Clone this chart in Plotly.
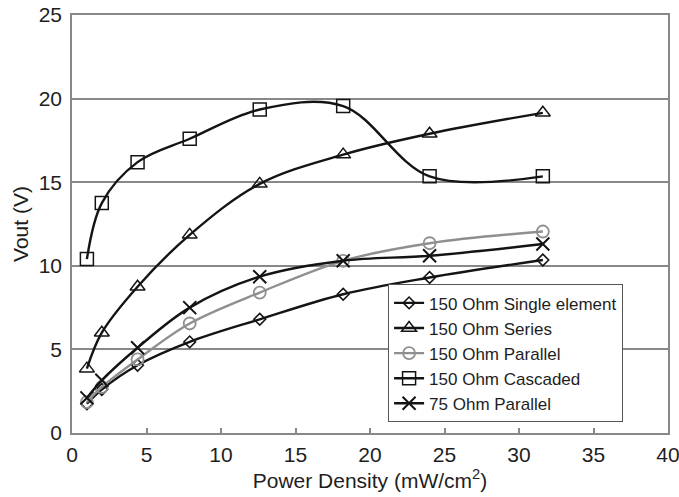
import plotly.graph_objects as go

# Power density (mW/cm^2) at which each configuration was measured
power_density = [1.0, 2.0, 4.4, 7.9, 12.6, 18.2, 24.0, 31.6]

# Output voltage (V) for each configuration
single_150 = [1.75, 2.6, 4.05, 5.45, 6.8, 8.3, 9.3, 10.35]
series_150 = [3.85, 6.0, 8.75, 11.85, 14.9, 16.65, 17.9, 19.15]
parallel_150 = [1.85, 2.75, 4.4, 6.55, 8.4, 10.3, 11.35, 12.05]
cascaded_150 = [10.4, 13.75, 16.2, 17.6, 19.35, 19.55, 15.35, 15.35]
parallel_75 = [2.1, 3.15, 5.1, 7.5, 9.35, 10.3, 10.6, 11.3]

series_names = [
    "150 Ohm Single element",
    "150 Ohm Series",
    "150 Ohm Parallel",
    "150 Ohm Cascaded",
    "75 Ohm Parallel",
]

x_ticks = [0, 5, 10, 15, 20, 25, 30, 35, 40]
y_ticks = [0, 5, 10, 15, 20, 25]

BLACK = "#141414"
GRAY = "#8f8f8f"
FONT = "Liberation Sans, Arial, sans-serif"

styles = [
    (single_150, BLACK, "diamond-open", 9, 1.6),
    (series_150, BLACK, "triangle-up-open", 13, 1.5),
    (parallel_150, GRAY, "circle-open", 12, 1.8),
    (cascaded_150, BLACK, "square-open", 13, 1.5),
    (parallel_75, BLACK, "x-thin-open", 13, 2.0),
]

fig = go.Figure()
for name, (vals, color, symbol, size, mlw) in zip(series_names, styles):
    fig.add_trace(
        go.Scatter(
            x=power_density,
            y=vals,
            name=name,
            mode="lines+markers",
            line=dict(color=color, width=2.4, shape="spline", smoothing=1.0),
            marker=dict(
                symbol=symbol,
                size=size,
                color=color,
                line=dict(color=color, width=mlw),
            ),
        )
    )

fig.update_layout(
    width=679,
    height=497,
    margin=dict(l=72, r=11, t=15, b=64, autoexpand=False),
    paper_bgcolor="white",
    plot_bgcolor="white",
    font=dict(family=FONT, size=21, color="#1e1e1e"),
    showlegend=True,
    legend=dict(
        x=0.53,
        y=0.026,
        xanchor="left",
        yanchor="bottom",
        bgcolor="white",
        bordercolor="#555555",
        borderwidth=1.2,
        font=dict(family=FONT, size=17, color="#1e1e1e"),
        tracegroupgap=0,
        itemwidth=30,
    ),
)

fig.update_xaxes(
    range=[0, 40],
    tickvals=x_ticks,
    ticktext=[str(v) for v in x_ticks],
    ticks="inside",
    ticklen=5,
    tickcolor="#888888",
    tickwidth=1.5,
    showline=True,
    linecolor="#888888",
    linewidth=1.5,
    mirror=True,
    showgrid=False,
    zeroline=False,
    automargin=False,
    ticklabeloverflow="allow",
    ticklabelstandoff=2,
    tickfont=dict(family=FONT, size=21),
    title=dict(text="Power Density (mW/cm<sup>2</sup>)", standoff=4,
               font=dict(family=FONT, size=21)),
)

fig.update_yaxes(
    range=[0, 25],
    tickvals=y_ticks,
    ticktext=[str(v) for v in y_ticks],
    ticks="",
    showline=True,
    linecolor="#888888",
    linewidth=1.5,
    mirror=True,
    showgrid=True,
    gridcolor="#888888",
    gridwidth=1.5,
    zeroline=False,
    automargin=False,
    ticklabeloverflow="allow",
    ticklabelstandoff=4,
    tickfont=dict(family=FONT, size=21),
    title=dict(text="Vout (V)", standoff=4, font=dict(family=FONT, size=21)),
)

fig.write_html("out.html")
